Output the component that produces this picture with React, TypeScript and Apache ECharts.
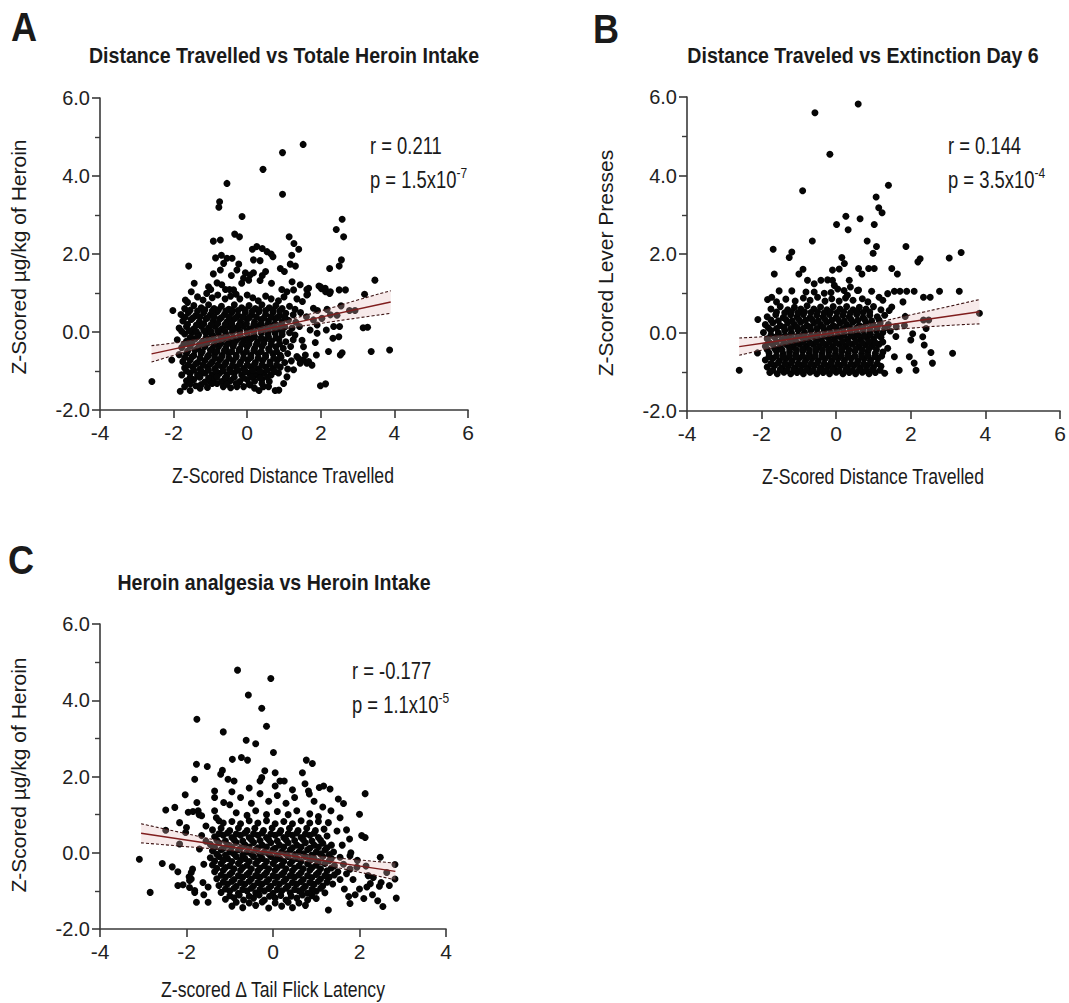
import React, { useEffect, useRef } from "react";
import * as echarts from "echarts";

const FONT = "'Liberation Sans', Arial, Helvetica, sans-serif";

// ---------- Panel A: Distance Travelled vs Total Heroin Intake ----------
const aOutliers: number[][] = [
  [1.52,4.81],[0.96,4.6],[0.43,4.17],[-0.55,3.81],[0.96,3.53],[-0.75,3.34],[-0.77,3.2],[-0.14,2.96],[2.58,2.89],[2.42,2.63],
  [2.62,2.44],[-0.34,2.51],[-0.21,2.44],[1.14,2.44],[-0.92,2.33],[-0.73,2.36],[1.27,2.27],[1.4,2.12],[0.26,2.19],[0.14,2.12],
  [0.41,2.14],[0.54,2.06],[0.65,2.0],[0.7,1.93],[-0.86,1.9],[-0.7,1.97],[-0.55,1.89],[-0.41,1.89],[1.21,1.97],[0.17,1.85],
  [0.35,1.83],[-1.59,1.69],[0.9,1.63],[1.01,1.55],[1.17,1.74],[1.31,1.69],[2.24,1.63],[2.5,1.69],[2.56,1.85],[-0.23,1.74],
  [-0.28,1.59],[-0.43,1.45],[-0.64,1.76],[-0.73,1.59],[-0.92,1.49],[-0.05,1.52],[-0.1,1.38],[-0.15,1.25],[0.08,1.46],[0.17,1.52],
  [0.04,1.33],[0.41,1.45],[0.5,1.55],[0.35,1.32],[0.66,1.25],[-1.44,1.25],[-1.52,1.03],[-1.68,0.82],[-1.62,0.76],[-2.02,0.55],
  [-1.05,1.16],[-0.99,1.09],[-0.82,1.26],[-1.1,0.99],[-0.69,1.21],[-0.59,1.09],[-0.48,1.09],[-0.37,1.08],[-0.3,0.97],[1.22,1.29],
  [1.26,1.08],[1.08,1.03],[0.94,1.09],[1.62,1.09],[1.64,0.97],[1.95,1.18],[2.02,1.11],[2.13,1.03],[2.24,0.99],[2.5,1.08],
  [2.67,1.08],[3.47,1.33],[3.19,0.97],[2.55,0.67],[2.93,0.55],[3.27,0.12],[1.8,0.61],[1.91,0.55],[2.17,0.58],[2.44,0.43],
  [2.15,0.05],[2.51,0.14],[-2.59,-1.27],[-2.05,-0.72],[-1.82,-1.52],[-1.55,-1.5],[-1.28,-1.44],[1.99,-1.38],[2.13,-1.33],[3.15,0.11],
  [3.37,-0.5],[3.87,-0.46],[2.78,0.55],[2.21,-0.5],[2.53,-0.59],[2.58,-0.53],[2.33,-0.16],[2.35,0.14],[2.03,0.35],[2.26,0.44],
  [1.85,-0.27],[1.88,-0.59],[0.32,-1.5],[0.86,-1.49],[1.62,-0.8],[1.53,-0.72],[1.35,-0.63],[2.49,-0.12],[1.61,0.39],[1.8,0.31],
  [1.9,0.18],[1.71,0.05],[1.9,-0.03],[1.67,-0.76],[1.76,-0.85],[1.49,-0.21],[1.53,-0.38],[1.58,-0.59],[1.4,-0.68],[1.44,-0.8],
  [1.26,-0.97],[1.08,-1.15],[0.99,-1.32],[0.76,-1.5],[0.44,-1.4],[0.08,-1.36],[-0.28,-1.4],[-0.57,-1.23],[-0.82,-1.32],[-1.0,-1.27],
  [-1.28,-1.15],[1.44,1.21],[1.67,1.12],[1.62,0.95],[2.12,1.12],[1.99,1.16],[2.26,1.03]
];
const aCore: number[][] = [
  [-1.35,0.9],[-1.2,0.82],[-0.95,0.88],[-0.8,0.95],[-0.6,0.85],[-0.45,0.92],[-0.2,0.85],[0.0,0.95],[0.15,0.88],[0.3,0.8],[0.5,0.92],[0.65,0.85],[0.85,0.8],[1.0,0.9],[1.35,0.85],[1.5,0.78],
  [-1.7,0.6],[-1.45,0.68],[-1.25,0.62],[-1.05,0.7],[-0.9,0.6],[-0.7,0.66],[-0.5,0.58],[-0.35,0.7],[-0.15,0.62],[0.05,0.68],[0.22,0.6],[0.4,0.7],[0.6,0.62],[0.78,0.68],[0.95,0.6],[1.15,0.66],[1.3,0.58],
  [-1.8,0.45],[-1.6,0.5],[-1.4,0.42],[-1.18,0.5],[-1.0,0.44],[-0.82,0.52],[-0.62,0.45],[-0.42,0.5],[-0.25,0.42],[-0.05,0.5],[0.12,0.44],[0.32,0.52],[0.5,0.45],[0.7,0.5],[0.88,0.42],[1.05,0.48],[1.25,0.44],[1.45,0.5],
  [-1.75,0.28],[-1.52,0.32],[-1.3,0.26],[-1.12,0.34],[-0.92,0.28],[-0.75,0.33],[-0.55,0.26],[-0.38,0.32],[-0.18,0.27],[0.0,0.33],[0.2,0.26],[0.38,0.32],[0.58,0.28],[0.76,0.34],[0.95,0.27],[1.12,0.3],[1.32,0.25],
  [-1.85,0.1],[-1.65,0.14],[-1.45,0.08],[-1.25,0.15],[-1.05,0.1],[-0.88,0.15],[-0.68,0.08],[-0.5,0.14],[-0.3,0.1],[-0.1,0.15],[0.08,0.08],[0.28,0.14],[0.48,0.1],[0.66,0.15],[0.85,0.08],[1.02,0.13],[1.22,0.1],[1.42,0.14],
  [-1.7,-0.05],[-1.5,-0.02],[-1.32,-0.07],[-1.12,-0.03],[-0.95,-0.08],[-0.78,-0.02],[-0.58,-0.06],[-0.4,-0.02],[-0.2,-0.07],[0.0,-0.03],[0.18,-0.08],[0.38,-0.02],[0.56,-0.06],[0.76,-0.03],[0.95,-0.07],[1.15,-0.02],[1.3,-0.08],
  [-1.9,-0.2],[-1.65,-0.24],[-1.42,-0.18],[-1.22,-0.25],[-1.02,-0.2],[-0.85,-0.24],[-0.65,-0.18],[-0.48,-0.25],[-0.28,-0.2],[-0.1,-0.24],[0.1,-0.18],[0.28,-0.25],[0.48,-0.2],[0.66,-0.24],[0.86,-0.18],[1.05,-0.25],[1.25,-0.2],
  [-1.78,-0.4],[-1.55,-0.36],[-1.35,-0.42],[-1.15,-0.37],[-0.95,-0.43],[-0.78,-0.38],[-0.58,-0.42],[-0.38,-0.37],[-0.2,-0.43],[0.0,-0.38],[0.2,-0.42],[0.4,-0.37],[0.58,-0.43],[0.78,-0.38],[0.98,-0.42],[1.18,-0.37],
  [-1.85,-0.58],[-1.65,-0.55],[-1.45,-0.6],[-1.25,-0.55],[-1.05,-0.6],[-0.88,-0.56],[-0.68,-0.6],[-0.5,-0.55],[-0.3,-0.6],[-0.1,-0.56],[0.1,-0.6],[0.3,-0.55],[0.5,-0.6],[0.7,-0.56],[0.9,-0.6],[1.1,-0.55],
  [-1.75,-0.76],[-1.55,-0.72],[-1.35,-0.78],[-1.15,-0.73],[-0.95,-0.77],[-0.75,-0.72],[-0.58,-0.78],[-0.38,-0.73],[-0.18,-0.77],[0.02,-0.72],[0.22,-0.78],[0.42,-0.73],[0.62,-0.77],[0.82,-0.72],[1.02,-0.78],[1.2,-0.74],
  [-1.7,-0.92],[-1.48,-0.9],[-1.28,-0.95],[-1.08,-0.9],[-0.88,-0.94],[-0.68,-0.89],[-0.48,-0.95],[-0.3,-0.9],[-0.1,-0.94],[0.1,-0.89],[0.3,-0.95],[0.5,-0.9],[0.7,-0.94],[0.9,-0.9],[1.1,-0.95],
  [-1.78,-1.1],[-1.55,-1.06],[-1.35,-1.1],[-1.15,-1.05],[-0.95,-1.1],[-0.75,-1.06],[-0.55,-1.1],[-0.35,-1.05],[-0.15,-1.1],[0.05,-1.06],[0.25,-1.1],[0.45,-1.06],[0.65,-1.1],[0.85,-1.05],
  [-1.65,-1.25],[-1.45,-1.22],[-1.15,-1.28],[-0.92,-1.22],[-0.7,-1.27],[-0.45,-1.24],[-0.2,-1.27],[0.0,-1.22],[0.2,-1.26],[0.4,-1.22],[0.6,-1.27],
  [-1.7,-1.4],[-1.4,-1.38],[-1.08,-1.42],[-0.65,-1.4],[-0.45,-1.43],[-0.1,-1.4],[0.2,-1.44],[0.58,-1.4]
];
const aCoreFill: number[][] = [
  [-1.55,0.56],[-1.35,0.54],[-1.15,0.57],[-0.95,0.54],[-0.78,0.57],[-0.58,0.54],[-0.42,0.57],[-0.25,0.55],[-0.05,0.57],[0.14,0.54],[0.32,0.57],[0.5,0.55],[0.7,0.57],[0.88,0.54],
  [-1.68,0.38],[-1.48,0.36],[-1.28,0.39],[-1.08,0.36],[-0.9,0.39],[-0.7,0.37],[-0.5,0.39],[-0.32,0.36],[-0.12,0.39],[0.06,0.37],[0.25,0.39],[0.45,0.36],[0.65,0.39],[0.82,0.37],[1.02,0.39],
  [-1.62,0.2],[-1.38,0.18],[-1.18,0.21],[-0.98,0.19],[-0.8,0.22],[-0.6,0.19],[-0.42,0.21],[-0.22,0.18],[-0.02,0.21],[0.18,0.19],[0.38,0.22],[0.56,0.19],[0.75,0.21],[0.92,0.19],
  [-1.78,0.02],[-1.58,0.04],[-1.38,0.01],[-1.18,0.04],[-0.98,0.01],[-0.8,0.04],[-0.6,0.02],[-0.4,0.05],[-0.2,0.02],[0.0,0.04],[0.18,0.01],[0.38,0.04],[0.58,0.02],[0.76,0.05],[0.95,0.01],
  [-1.55,-0.14],[-1.35,-0.12],[-1.12,-0.15],[-0.92,-0.12],[-0.72,-0.15],[-0.55,-0.12],[-0.38,-0.15],[-0.18,-0.13],[0.0,-0.15],[0.2,-0.12],[0.38,-0.15],[0.58,-0.13],[0.78,-0.15],
  [-1.72,-0.31],[-1.5,-0.29],[-1.3,-0.32],[-1.1,-0.29],[-0.9,-0.32],[-0.72,-0.3],[-0.55,-0.32],[-0.35,-0.29],[-0.15,-0.32],[0.05,-0.3],[0.25,-0.32],[0.45,-0.29],[0.65,-0.32],[0.88,-0.3],
  [-1.62,-0.49],[-1.42,-0.47],[-1.22,-0.5],[-1.0,-0.47],[-0.82,-0.5],[-0.62,-0.48],[-0.42,-0.5],[-0.22,-0.47],[-0.02,-0.5],[0.18,-0.48],[0.38,-0.5],[0.6,-0.47],[0.8,-0.5],
  [-1.7,-0.66],[-1.5,-0.64],[-1.28,-0.67],[-1.08,-0.64],[-0.88,-0.67],[-0.7,-0.65],[-0.5,-0.67],[-0.3,-0.64],[-0.1,-0.67],[0.1,-0.65],[0.3,-0.67],[0.5,-0.64],[0.72,-0.67],[0.92,-0.65],
  [-1.6,-0.84],[-1.4,-0.82],[-1.2,-0.85],[-1.0,-0.82],[-0.8,-0.85],[-0.6,-0.83],[-0.4,-0.85],[-0.2,-0.82],[0.0,-0.85],[0.2,-0.83],[0.4,-0.85],[0.62,-0.82],[0.8,-0.85],
  [-1.65,-1.0],[-1.45,-0.98],[-1.25,-1.01],[-1.05,-0.98],[-0.85,-1.01],[-0.65,-0.99],[-0.45,-1.01],[-0.25,-0.98],[-0.05,-1.01],[0.15,-0.99],[0.35,-1.01],[0.55,-0.98],[0.75,-1.01],
  [-1.55,-1.17],[-1.3,-1.15],[-1.05,-1.18],[-0.82,-1.15],[-0.6,-1.18],[-0.35,-1.16],[-0.1,-1.18],[0.12,-1.15],[0.35,-1.18],[0.55,-1.16],
  [-1.55,-1.33],[-1.25,-1.35],[-0.95,-1.32],[-0.55,-1.34],[-0.3,-1.32],[0.05,-1.34],[0.4,-1.32]
];
const aFitX = [-2.6, 3.9];
const aFitY = [-0.56, 0.77];
const aBandX = [-2.6, -2, -1, 0, 1, 2, 3, 3.9];
const aBandUpper = [-0.35, -0.28, -0.13, 0.04, 0.28, 0.54, 0.82, 1.06];
const aBandLower = [-0.77, -0.6, -0.33, -0.1, 0.08, 0.22, 0.36, 0.48];

// ---------- Panel B: Distance Traveled vs Extinction Day 6 ----------
const bOutliers: number[][] = [
  [0.59,5.82],[-0.57,5.6],[-0.17,4.54],[-0.9,3.61],[1.4,3.75],[1.07,3.45],[1.14,3.18],[1.23,3.05],[0.26,2.96],[0.01,2.75],
  [0.32,2.62],[0.64,2.9],[1.02,2.75],[-0.64,2.33],[0.83,2.33],[1.08,2.19],[0.99,2.02],[1.87,2.19],[-1.69,2.12],[-1.19,2.05],
  [-1.26,1.91],[-1.66,1.49],[-1.53,1.06],[-1.19,1.06],[-1.0,1.49],[-0.89,1.61],[0.15,1.91],[0.22,1.76],[-0.1,1.59],[0.08,1.62],
  [0.6,1.63],[0.69,1.49],[0.87,1.63],[1.02,1.63],[0.6,1.08],[1.49,1.63],[1.64,1.49],[2.19,1.8],[2.25,1.88],[3.03,1.9],
  [3.35,2.04],[1.56,1.05],[1.71,1.05],[1.89,1.05],[2.09,1.05],[2.34,0.9],[2.52,0.9],[2.77,1.05],[3.3,1.05],[3.84,0.49],
  [-2.1,0.33],[-1.84,0.84],[-1.73,0.9],[0.95,1.05],[1.15,0.9],[1.79,0.78],[1.49,0.65],[1.42,0.56],[1.85,0.41],[2.34,0.32],
  [2.48,0.32],[2.41,0.1],[1.83,0.18],[2.05,-0.03],[2.32,-0.11],[-2.6,-0.96],[-2.11,-0.52],[-0.77,1.33],[-0.59,1.24],[-0.41,1.33],
  [-0.23,1.34],[-0.1,1.33],[-0.05,1.2],[0.04,1.11],[0.21,1.07],[0.35,1.33],[0.38,1.16],[0.57,1.07],[0.3,0.95],[-0.81,1.03],
  [-0.59,1.03],[-0.32,1.0],[-0.14,1.02],[1.38,0.99],[1.6,-0.1],[2.0,-0.19],[2.36,-0.32],[2.54,-0.51],[2.58,-0.78],[2.09,-0.78],
  [2.14,-0.96],[1.69,-0.96],[1.96,-0.62],[1.56,-0.62],[1.38,-0.4],[3.12,-0.53],[1.61,0.15]
];
const bCore: number[][] = [
  [-1.6,0.78],[-1.35,0.85],[-1.1,0.8],[-0.88,0.88],[-0.7,0.82],[-0.5,0.9],[-0.3,0.8],[-0.12,0.86],[0.08,0.8],[0.25,0.88],[0.45,0.82],[0.7,0.86],[0.85,0.78],[1.25,0.82],
  [-1.75,0.6],[-1.5,0.66],[-1.3,0.58],[-1.12,0.64],[-0.95,0.6],[-0.78,0.68],[-0.6,0.6],[-0.42,0.65],[-0.25,0.58],[-0.08,0.66],[0.1,0.6],[0.28,0.66],[0.45,0.58],[0.62,0.64],[0.8,0.6],[1.0,0.66],[1.2,0.58],
  [-1.85,0.4],[-1.62,0.45],[-1.42,0.38],[-1.22,0.45],[-1.05,0.4],[-0.88,0.46],[-0.7,0.38],[-0.52,0.44],[-0.35,0.4],[-0.18,0.46],[0.0,0.38],[0.18,0.44],[0.35,0.4],[0.55,0.46],[0.72,0.38],[0.9,0.44],[1.1,0.4],[1.3,0.44],
  [-1.9,0.2],[-1.7,0.25],[-1.5,0.18],[-1.3,0.24],[-1.12,0.2],[-0.95,0.26],[-0.78,0.18],[-0.6,0.24],[-0.42,0.2],[-0.25,0.26],[-0.08,0.18],[0.1,0.24],[0.28,0.2],[0.45,0.26],[0.62,0.18],[0.8,0.24],[0.98,0.2],[1.18,0.24],[1.4,0.2],
  [-1.95,0.0],[-1.75,0.05],[-1.55,-0.01],[-1.38,0.05],[-1.2,0.0],[-1.02,0.06],[-0.85,0.0],[-0.68,0.05],[-0.5,-0.01],[-0.32,0.05],[-0.15,0.0],[0.02,0.06],[0.2,0.0],[0.38,0.05],[0.55,-0.01],[0.72,0.05],[0.9,0.0],[1.08,0.05],[1.25,0.0],[1.45,0.04],
  [-1.85,-0.16],[-1.65,-0.12],[-1.45,-0.18],[-1.28,-0.13],[-1.1,-0.18],[-0.92,-0.12],[-0.75,-0.17],[-0.58,-0.12],[-0.4,-0.18],[-0.22,-0.13],[-0.05,-0.18],[0.12,-0.12],[0.3,-0.17],[0.48,-0.12],[0.65,-0.18],[0.82,-0.13],[1.0,-0.17],[1.2,-0.12],
  [-1.9,-0.35],[-1.7,-0.3],[-1.5,-0.36],[-1.32,-0.31],[-1.15,-0.36],[-0.98,-0.3],[-0.8,-0.35],[-0.62,-0.3],[-0.45,-0.36],[-0.28,-0.31],[-0.1,-0.36],[0.08,-0.3],[0.25,-0.35],[0.42,-0.3],[0.6,-0.36],[0.78,-0.31],[0.95,-0.35],[1.15,-0.3],
  [-1.8,-0.52],[-1.6,-0.48],[-1.42,-0.54],[-1.25,-0.49],[-1.08,-0.54],[-0.9,-0.48],[-0.72,-0.53],[-0.55,-0.48],[-0.38,-0.54],[-0.2,-0.49],[-0.02,-0.54],[0.15,-0.48],[0.32,-0.53],[0.5,-0.48],[0.68,-0.54],[0.85,-0.49],[1.05,-0.53],[1.25,-0.5],
  [-1.9,-0.7],[-1.7,-0.66],[-1.52,-0.72],[-1.35,-0.67],[-1.18,-0.72],[-1.0,-0.66],[-0.82,-0.71],[-0.65,-0.66],[-0.48,-0.72],[-0.3,-0.67],[-0.12,-0.72],[0.05,-0.66],[0.22,-0.71],[0.4,-0.66],[0.58,-0.72],[0.75,-0.67],[0.92,-0.71],[1.12,-0.66],
  [-1.85,-0.88],[-1.65,-0.84],[-1.45,-0.9],[-1.28,-0.85],[-1.1,-0.9],[-0.92,-0.84],[-0.75,-0.89],[-0.58,-0.84],[-0.4,-0.9],[-0.22,-0.85],[-0.05,-0.9],[0.12,-0.84],[0.3,-0.89],[0.48,-0.84],[0.65,-0.9],[0.82,-0.85],[1.0,-0.89],[1.2,-0.86],
  [-1.78,-1.02],[-1.58,-1.05],[-1.4,-1.01],[-1.22,-1.05],[-1.05,-1.02],[-0.88,-1.05],[-0.7,-1.01],[-0.52,-1.05],[-0.35,-1.02],[-0.18,-1.05],[0.0,-1.01],[0.18,-1.05],[0.35,-1.02],[0.52,-1.05],[0.7,-1.01],[0.88,-1.05],[1.05,-1.02],[1.3,-1.04]
];
const bCoreFill: number[][] = [
  [-1.6,0.52],[-1.38,0.5],[-1.2,0.53],[-1.02,0.5],[-0.85,0.53],[-0.68,0.51],[-0.5,0.53],[-0.32,0.5],[-0.15,0.53],[0.02,0.51],[0.2,0.53],[0.38,0.5],[0.55,0.53],[0.72,0.51],[0.9,0.52],
  [-1.75,0.32],[-1.55,0.3],[-1.35,0.33],[-1.18,0.3],[-1.0,0.33],[-0.82,0.31],[-0.65,0.33],[-0.48,0.3],[-0.3,0.33],[-0.12,0.31],[0.05,0.33],[0.22,0.3],[0.4,0.33],[0.58,0.31],[0.76,0.33],[0.95,0.3],[1.15,0.32],
  [-1.82,0.12],[-1.6,0.1],[-1.4,0.13],[-1.22,0.1],[-1.05,0.13],[-0.88,0.11],[-0.7,0.13],[-0.52,0.1],[-0.35,0.13],[-0.18,0.11],[0.0,0.13],[0.18,0.1],[0.36,0.13],[0.54,0.11],[0.72,0.13],[0.9,0.1],[1.1,0.13],[1.3,0.11],
  [-1.75,-0.07],[-1.55,-0.05],[-1.37,-0.08],[-1.2,-0.05],[-1.02,-0.08],[-0.85,-0.06],[-0.67,-0.08],[-0.5,-0.05],[-0.32,-0.08],[-0.14,-0.06],[0.04,-0.08],[0.22,-0.05],[0.4,-0.08],[0.58,-0.06],[0.75,-0.08],[0.92,-0.05],[1.1,-0.07],
  [-1.8,-0.25],[-1.6,-0.23],[-1.4,-0.26],[-1.22,-0.23],[-1.05,-0.26],[-0.88,-0.24],[-0.7,-0.26],[-0.53,-0.23],[-0.36,-0.26],[-0.18,-0.24],[0.0,-0.26],[0.17,-0.23],[0.34,-0.26],[0.52,-0.24],[0.7,-0.26],[0.88,-0.23],[1.05,-0.26],[1.25,-0.24],
  [-1.85,-0.43],[-1.65,-0.41],[-1.45,-0.44],[-1.25,-0.41],[-1.07,-0.44],[-0.9,-0.42],[-0.72,-0.44],[-0.55,-0.41],[-0.37,-0.44],[-0.2,-0.42],[-0.02,-0.44],[0.16,-0.41],[0.34,-0.44],[0.52,-0.42],[0.7,-0.44],[0.88,-0.41],[1.08,-0.43],
  [-1.8,-0.61],[-1.6,-0.59],[-1.42,-0.62],[-1.25,-0.59],[-1.08,-0.62],[-0.9,-0.6],[-0.73,-0.62],[-0.56,-0.59],[-0.38,-0.62],[-0.2,-0.6],[-0.03,-0.62],[0.14,-0.59],[0.32,-0.62],[0.5,-0.6],[0.68,-0.62],[0.85,-0.59],[1.03,-0.62],[1.22,-0.6],
  [-1.75,-0.79],[-1.55,-0.77],[-1.37,-0.8],[-1.2,-0.77],[-1.02,-0.8],[-0.85,-0.78],[-0.67,-0.8],[-0.5,-0.77],[-0.32,-0.8],[-0.14,-0.78],[0.04,-0.8],[0.22,-0.77],[0.4,-0.8],[0.57,-0.78],[0.74,-0.8],[0.92,-0.77],[1.1,-0.79],
  [-1.7,-0.96],[-1.5,-0.94],[-1.32,-0.97],[-1.14,-0.94],[-0.97,-0.97],[-0.8,-0.95],[-0.62,-0.97],[-0.44,-0.94],[-0.27,-0.97],[-0.1,-0.95],[0.08,-0.97],[0.26,-0.94],[0.44,-0.97],[0.62,-0.95],[0.8,-0.97],[0.97,-0.94],[1.18,-0.96]
];
const bFitX = [-2.6, 3.84];
const bFitY = [-0.36, 0.53];
const bBandX = [-2.6, -2, -1, 0, 1, 2, 3, 3.84];
const bBandUpper = [-0.14, -0.11, -0.04, 0.07, 0.24, 0.45, 0.66, 0.84];
const bBandLower = [-0.58, -0.45, -0.24, -0.07, 0.04, 0.11, 0.18, 0.22];

// ---------- Panel C: Heroin analgesia vs Heroin Intake ----------
const cOutliers: number[][] = [
  [-0.82,4.79],[-0.05,4.57],[-0.57,4.14],[-0.26,3.79],[-1.76,3.5],[-1.15,3.17],[-0.15,3.32],[-0.62,2.95],[-0.4,2.86],[0.01,2.63],
  [-0.94,2.45],[-0.73,2.5],[-0.59,2.43],[-1.77,2.32],[-1.52,2.26],[-1.81,1.93],[-1.17,2.16],[-1.21,2.06],[-1.04,1.93],[-0.9,1.88],
  [-0.19,2.15],[-0.26,1.97],[-0.3,1.88],[0.05,2.1],[0.16,1.88],[0.26,1.88],[0.77,2.43],[0.91,2.34],[0.68,2.1],[0.74,1.81],
  [0.82,1.62],[0.84,1.54],[1.07,1.71],[1.17,1.75],[1.32,1.67],[1.51,1.41],[1.63,1.29],[2.13,1.55],[2.0,1.01],[2.05,0.45],
  [2.13,0.4],[1.77,0.36],[-2.03,1.52],[-2.48,1.12],[-2.27,1.19],[-2.16,0.79],[-2.0,0.66],[-2.02,0.53],[-2.48,0.59],[-2.16,0.23],
  [-1.96,1.06],[-1.85,1.08],[-1.73,1.1],[-1.76,1.32],[-1.65,0.97],[-1.35,1.62],[-1.35,1.45],[-1.35,1.1],[-1.31,0.92],[-1.25,0.84],
  [-1.14,1.32],[-1.0,1.26],[-3.09,-0.17],[-2.84,-1.04],[-2.56,-0.28],[-2.33,-0.37],[-2.2,-0.5],[-2.2,-0.86],[-2.08,-0.84],[-1.93,-0.73],
  [-1.89,-0.52],[-1.86,-0.43],[-1.81,-0.99],[-1.77,-1.3],[-1.62,-0.78],[2.48,-0.12],[2.5,-0.78],[2.42,-1.26],[2.54,-1.41],[2.69,-0.86],
  [2.85,-1.19],[1.28,-1.5],[1.78,-1.33],[2.82,-0.31],[2.63,-0.52],[2.82,-0.69],[2.32,-0.65],[2.25,-0.81],[2.17,-0.9],[2.46,-0.88],
  [1.78,-0.43],[1.94,-0.38],[1.63,-0.3],[1.55,-0.12],[1.78,-0.08],[1.48,0.57],[1.55,0.92],[1.34,1.1],[1.28,0.79],[-1.89,-0.69],
  [-1.93,-0.91],[-1.81,-1.04],[-1.94,-0.63],[-1.71,1.0],[1.7,-0.55],[1.85,-0.7],[2.0,-0.95],[1.9,-1.1],[2.1,-1.2],[1.65,-0.95],
  [1.75,-1.15],[2.2,-0.6],[1.95,-0.2],[2.15,-0.35],[1.6,0.2],[1.8,0.0],[1.7,0.6],[2.3,-1.1],[-1.6,-0.3],[-1.55,0.3],
  [-1.6,-1.1],[-1.5,-0.9],[-1.55,0.7],[-1.65,0.45],[-1.5,-1.3],[-1.7,0.1]
];
const cCore: number[][] = [
  [-0.75,1.45],[-0.5,1.3],[-0.3,1.55],[-0.1,1.35],[0.1,1.5],[0.3,1.3],[0.5,1.45],[-0.95,1.6],[-0.55,1.7],[0.05,1.75],[0.45,1.65],[0.95,1.35],[1.15,1.2],
  [-0.85,1.05],[-0.6,0.98],[-0.4,1.1],[-0.15,1.0],[0.1,1.08],[0.35,1.0],[0.55,1.1],[0.85,1.02],[1.05,0.95],
  [-1.15,0.78],[-0.95,0.82],[-0.75,0.76],[-0.55,0.84],[-0.35,0.78],[-0.15,0.84],[0.05,0.76],[0.25,0.82],[0.45,0.76],[0.65,0.84],[0.85,0.78],[1.05,0.82],
  [-1.4,0.6],[-1.2,0.64],[-1.0,0.58],[-0.8,0.65],[-0.6,0.58],[-0.42,0.64],[-0.22,0.58],[-0.02,0.65],[0.18,0.58],[0.38,0.64],[0.58,0.58],[0.78,0.64],[0.98,0.58],[1.18,0.62],
  [-1.35,0.42],[-1.15,0.46],[-0.95,0.4],[-0.75,0.46],[-0.55,0.4],[-0.35,0.46],[-0.15,0.4],[0.05,0.46],[0.25,0.4],[0.45,0.46],[0.65,0.4],[0.85,0.46],[1.05,0.4],[1.25,0.44],
  [-1.45,0.22],[-1.25,0.26],[-1.05,0.2],[-0.85,0.27],[-0.65,0.21],[-0.45,0.27],[-0.25,0.2],[-0.05,0.26],[0.15,0.2],[0.35,0.26],[0.55,0.2],[0.75,0.26],[0.95,0.2],[1.15,0.25],[1.35,0.2],
  [-1.4,0.05],[-1.2,0.08],[-1.0,0.02],[-0.8,0.08],[-0.6,0.02],[-0.4,0.08],[-0.2,0.02],[0.0,0.08],[0.2,0.02],[0.4,0.08],[0.6,0.02],[0.8,0.08],[1.0,0.02],[1.2,0.07],[1.4,0.02],
  [-1.45,-0.13],[-1.25,-0.1],[-1.05,-0.15],[-0.85,-0.1],[-0.65,-0.15],[-0.45,-0.1],[-0.25,-0.15],[-0.05,-0.1],[0.15,-0.15],[0.35,-0.1],[0.55,-0.15],[0.75,-0.1],[0.95,-0.15],[1.15,-0.1],[1.35,-0.15],
  [-1.4,-0.32],[-1.2,-0.28],[-1.0,-0.34],[-0.8,-0.28],[-0.6,-0.33],[-0.4,-0.28],[-0.2,-0.34],[0.0,-0.28],[0.2,-0.33],[0.4,-0.28],[0.6,-0.34],[0.8,-0.29],[1.0,-0.33],[1.2,-0.28],[1.42,-0.34],
  [-1.35,-0.5],[-1.15,-0.46],[-0.95,-0.52],[-0.75,-0.46],[-0.55,-0.52],[-0.35,-0.47],[-0.15,-0.52],[0.05,-0.46],[0.25,-0.52],[0.45,-0.47],[0.65,-0.52],[0.85,-0.46],[1.05,-0.52],[1.25,-0.47],[1.5,-0.5],
  [-1.3,-0.68],[-1.1,-0.64],[-0.9,-0.7],[-0.7,-0.64],[-0.5,-0.69],[-0.3,-0.64],[-0.1,-0.7],[0.1,-0.64],[0.3,-0.69],[0.5,-0.64],[0.7,-0.7],[0.9,-0.65],[1.1,-0.69],[1.3,-0.64],[1.55,-0.7],
  [-1.25,-0.86],[-1.05,-0.82],[-0.85,-0.88],[-0.65,-0.82],[-0.45,-0.87],[-0.25,-0.82],[-0.05,-0.88],[0.15,-0.82],[0.35,-0.87],[0.55,-0.82],[0.75,-0.88],[0.95,-0.83],[1.15,-0.87],[1.38,-0.82],
  [-1.2,-1.04],[-1.0,-1.0],[-0.8,-1.06],[-0.6,-1.0],[-0.4,-1.05],[-0.2,-1.0],[0.0,-1.06],[0.2,-1.0],[0.4,-1.05],[0.6,-1.0],[0.8,-1.06],[1.0,-1.01],[1.2,-1.05],
  [-1.1,-1.22],[-0.9,-1.18],[-0.68,-1.24],[-0.45,-1.19],[-0.2,-1.24],[0.05,-1.19],[0.3,-1.24],[0.55,-1.19],[0.8,-1.24],[1.0,-1.2],
  [-0.95,-1.4],[-0.7,-1.44],[-0.4,-1.38],[-0.1,-1.45],[0.2,-1.4],[0.45,-1.44],[0.75,-1.38]
];
const cCoreFill: number[][] = [
  [-1.25,0.5],[-1.05,0.52],[-0.85,0.49],[-0.65,0.52],[-0.45,0.5],[-0.25,0.52],[-0.05,0.49],[0.15,0.52],[0.35,0.5],[0.55,0.52],[0.75,0.49],[0.95,0.51],
  [-1.3,0.33],[-1.1,0.31],[-0.9,0.34],[-0.7,0.31],[-0.5,0.34],[-0.3,0.32],[-0.1,0.34],[0.1,0.31],[0.3,0.34],[0.5,0.32],[0.7,0.34],[0.9,0.31],[1.1,0.33],
  [-1.35,0.14],[-1.15,0.12],[-0.95,0.15],[-0.75,0.12],[-0.55,0.15],[-0.35,0.13],[-0.15,0.15],[0.05,0.12],[0.25,0.15],[0.45,0.13],[0.65,0.15],[0.85,0.12],[1.05,0.15],[1.25,0.13],
  [-1.3,-0.04],[-1.1,-0.06],[-0.9,-0.03],[-0.7,-0.06],[-0.5,-0.03],[-0.3,-0.05],[-0.1,-0.03],[0.1,-0.06],[0.3,-0.03],[0.5,-0.05],[0.7,-0.03],[0.9,-0.06],[1.1,-0.03],[1.3,-0.05],
  [-1.35,-0.22],[-1.15,-0.2],[-0.95,-0.23],[-0.75,-0.2],[-0.55,-0.23],[-0.35,-0.21],[-0.15,-0.23],[0.05,-0.2],[0.25,-0.23],[0.45,-0.21],[0.65,-0.23],[0.85,-0.2],[1.05,-0.23],[1.3,-0.21],
  [-1.3,-0.41],[-1.1,-0.39],[-0.9,-0.42],[-0.7,-0.39],[-0.5,-0.42],[-0.3,-0.4],[-0.1,-0.42],[0.1,-0.39],[0.3,-0.42],[0.5,-0.4],[0.7,-0.42],[0.9,-0.39],[1.1,-0.42],[1.35,-0.4],
  [-1.2,-0.59],[-1.0,-0.57],[-0.8,-0.6],[-0.6,-0.57],[-0.4,-0.6],[-0.2,-0.58],[0.0,-0.6],[0.2,-0.57],[0.4,-0.6],[0.6,-0.58],[0.8,-0.6],[1.0,-0.57],[1.2,-0.6],[1.42,-0.58],
  [-1.15,-0.77],[-0.95,-0.75],[-0.75,-0.78],[-0.55,-0.75],[-0.35,-0.78],[-0.15,-0.76],[0.05,-0.78],[0.25,-0.75],[0.45,-0.78],[0.65,-0.76],[0.85,-0.78],[1.05,-0.75],[1.25,-0.77],
  [-1.1,-0.95],[-0.9,-0.93],[-0.7,-0.96],[-0.5,-0.93],[-0.3,-0.96],[-0.1,-0.94],[0.1,-0.96],[0.3,-0.93],[0.5,-0.96],[0.7,-0.94],[0.9,-0.96],[1.1,-0.93],
  [-1.0,-1.13],[-0.78,-1.11],[-0.55,-1.14],[-0.32,-1.11],[-0.08,-1.14],[0.18,-1.12],[0.42,-1.14],[0.68,-1.11],[0.9,-1.13],
  [-0.85,-1.3],[-0.55,-1.32],[-0.25,-1.29],[0.05,-1.32],[0.35,-1.3],[0.6,-1.32]
];
const cFitX = [-3.05, 2.83];
const cFitY = [0.51, -0.49];
const cBandX = [-3.05, -2, -1, 0, 1, 2, 2.83];
const cBandUpper = [0.76, 0.5, 0.26, 0.06, -0.08, -0.19, -0.27];
const cBandLower = [0.26, 0.16, 0.06, -0.08, -0.28, -0.51, -0.71];

const xTicksAB = { min: -4, max: 6, interval: 2 };
const xTicksC = { min: -4, max: 4, interval: 2 };
const yTicks = { min: -2, max: 6, interval: 2 };

const pairs = (xs: number[], ys: number[]) => xs.map((x, i) => [x, ys[i]]);

const AXIS_COLOR = "#3a3a3a";

function xAxis(idx: number, t: { min: number; max: number; interval: number }) {
  return {
    type: "value", gridIndex: idx, min: t.min, max: t.max, interval: t.interval,
    axisLine: { show: true, onZero: false, lineStyle: { color: AXIS_COLOR, width: 1.6 } },
    axisTick: { show: true, length: 8, lineStyle: { color: AXIS_COLOR, width: 1.6 } },
    axisLabel: { fontSize: 21, color: "#222", fontFamily: FONT, margin: 12 },
    splitLine: { show: false },
  };
}
function yAxis(idx: number) {
  return {
    type: "value", gridIndex: idx, min: yTicks.min, max: yTicks.max, interval: yTicks.interval,
    axisLine: { show: true, onZero: false, lineStyle: { color: AXIS_COLOR, width: 1.6 } },
    axisTick: { show: true, length: 8, lineStyle: { color: AXIS_COLOR, width: 1.6 } },
    minorTick: { show: true, splitNumber: 2, length: 5, lineStyle: { color: AXIS_COLOR, width: 1.4 } },
    axisLabel: { fontSize: 20, color: "#222", fontFamily: FONT, margin: 10, formatter: (v: number) => v.toFixed(1) },
    splitLine: { show: false },
    minorSplitLine: { show: false },
  };
}

function panelSeries(idx: number, pts: number[][], fx: number[], fy: number[], bx: number[], bu: number[], bl: number[]) {
  return [
    {
      type: "scatter", xAxisIndex: idx, yAxisIndex: idx, data: pts, symbolSize: 7,
      itemStyle: { color: "#050505", opacity: 1 }, z: 2, silent: true,
    },
    {
      type: "custom", xAxisIndex: idx, yAxisIndex: idx, data: [[0, 0]], z: 5, silent: true,
      renderItem: (_p: any, api: any) => {
        const up = bx.map((x, k) => api.coord([x, bu[k]]));
        const lo = bx.map((x, k) => api.coord([x, bl[k]])).reverse();
        return { type: "polygon", shape: { points: up.concat(lo) }, style: { fill: "rgba(230,185,185,0.3)" } };
      },
    },
    {
      type: "line", xAxisIndex: idx, yAxisIndex: idx, data: pairs(bx, bu), smooth: true, symbol: "none", z: 8, silent: true,
      lineStyle: { color: "#3d1414", width: 1.1, type: [3, 2] },
    },
    {
      type: "line", xAxisIndex: idx, yAxisIndex: idx, data: pairs(bx, bl), smooth: true, symbol: "none", z: 8, silent: true,
      lineStyle: { color: "#3d1414", width: 1.1, type: [3, 2] },
    },
    {
      type: "line", xAxisIndex: idx, yAxisIndex: idx, data: pairs(fx, fy), symbol: "none", z: 9, silent: true,
      lineStyle: { color: "#7f1d1d", width: 1.4 },
    },
  ];
}

function txt(x: number, y: number, text: string, size: number, opts: any = {}) {
  return {
    type: "text", x, y, rotation: opts.rotation || 0, scaleX: opts.sx || 1, silent: true,
    style: {
      text, fontSize: size, fontFamily: FONT, fontWeight: opts.bold ? "bold" : "normal", fill: "#1a1a1a",
      align: opts.align || "center", verticalAlign: "middle", rich: opts.rich,
    },
  };
}
const supRich = {
  n: { fontSize: 23, fontFamily: FONT, fill: "#1a1a1a", lineHeight: 28 },
  s: { fontSize: 15, fontFamily: FONT, fill: "#1a1a1a", verticalAlign: "top", lineHeight: 28 },
};

export default function App() {
  const ref = useRef<HTMLDivElement>(null);
  useEffect(() => {
    if (!ref.current) return;
    const chart = echarts.init(ref.current, undefined, { renderer: "svg" });
    chart.setOption({
      animation: false,
      backgroundColor: "#ffffff",
      grid: [
        { left: 100, top: 98, width: 368, height: 312 },
        { left: 687, top: 97, width: 373, height: 314 },
        { left: 100, top: 624, width: 346, height: 305 },
      ],
      xAxis: [xAxis(0, xTicksAB), xAxis(1, xTicksAB), xAxis(2, xTicksC)],
      yAxis: [yAxis(0), yAxis(1), yAxis(2)],
      series: [
        ...panelSeries(0, aOutliers.concat(aCore, aCoreFill), aFitX, aFitY, aBandX, aBandUpper, aBandLower),
        ...panelSeries(1, bOutliers.concat(bCore, bCoreFill), bFitX, bFitY, bBandX, bBandUpper, bBandLower),
        ...panelSeries(2, cOutliers.concat(cCore, cCoreFill), cFitX, cFitY, cBandX, cBandUpper, cBandLower),
      ],
      graphic: [
        txt(24, 27, "A", 41, { bold: true, sx: 0.88 }),
        txt(606, 29, "B", 41, { bold: true, sx: 0.88 }),
        txt(21, 560, "C", 41, { bold: true, sx: 0.88 }),
        txt(284, 55, "Distance Travelled vs Totale Heroin Intake", 22, { bold: true, sx: 0.89 }),
        txt(863, 55, "Distance Traveled vs Extinction Day 6", 22, { bold: true, sx: 0.89 }),
        txt(274, 582, "Heroin analgesia vs Heroin Intake", 22, { bold: true, sx: 0.89 }),
        txt(283, 475, "Z-Scored Distance Travelled", 22, { sx: 0.8 }),
        txt(873, 476, "Z-Scored Distance Travelled", 22, { sx: 0.8 }),
        txt(273, 989, "Z-scored \u0394 Tail Flick Latency", 22, { sx: 0.8 }),
        txt(18, 257, "Z-Scored \u00b5g/kg of Heroin", 21, { rotation: Math.PI / 2 }),
        txt(605, 263, "Z-Scored Lever Presses", 21, { rotation: Math.PI / 2 }),
        txt(18, 775, "Z-Scored \u00b5g/kg of Heroin", 21, { rotation: Math.PI / 2 }),
        txt(370, 146, "r = 0.211", 23, { align: "left", sx: 0.8 }),
        txt(370, 180, "{n|p = 1.5x10}{s|-7}", 23, { align: "left", rich: supRich, sx: 0.8 }),
        txt(948, 146, "r = 0.144", 23, { align: "left", sx: 0.8 }),
        txt(948, 180, "{n|p = 3.5x10}{s|-4}", 23, { align: "left", rich: supRich, sx: 0.8 }),
        txt(352, 671, "r = -0.177", 23, { align: "left", sx: 0.8 }),
        txt(352, 705, "{n|p = 1.1x10}{s|-5}", 23, { align: "left", rich: supRich, sx: 0.8 }),
      ],
    });
    return () => chart.dispose();
  }, []);
  return <div ref={ref} style={{ position: "fixed", left: 0, top: 0, width: 1069, height: 1003, background: "#fff" }} />;
}
